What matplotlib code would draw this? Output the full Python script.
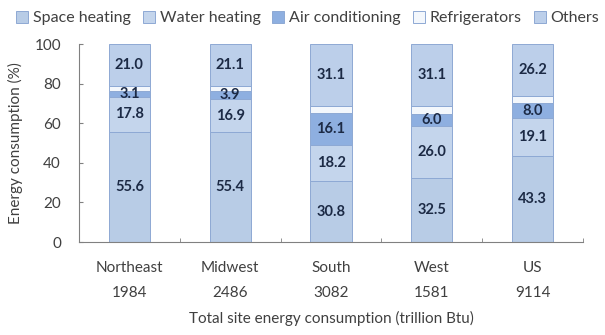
import matplotlib
matplotlib.use("Agg")
import matplotlib.pyplot as plt
import numpy as np

regions = ["Northeast", "Midwest", "South", "West", "US"]
totals = ["1984", "2486", "3082", "1581", "9114"]
series_names = ["Space heating", "Water heating", "Air conditioning", "Refrigerators", "Others"]
space_heating = [55.6, 55.4, 30.8, 32.5, 43.3]
water_heating = [17.8, 16.9, 18.2, 26.0, 19.1]
air_conditioning = [3.1, 3.9, 16.1, 6.0, 8.0]
refrigerators = [2.5, 2.7, 3.8, 4.4, 3.4]
others = [21.0, 21.1, 31.1, 31.1, 26.2]

series = [space_heating, water_heating, air_conditioning, refrigerators, others]
colors = ["#b8cce6", "#c4d5ec", "#8eafe0", "#f3f7fc", "#bccfea"]
show_label = [True, True, True, False, True]

plt.rcParams['font.family'] = ['Lato', 'DejaVu Sans']
fig = plt.figure(figsize=(6.05, 3.35), dpi=100)
ax = fig.add_axes([0.1306, 0.2776, 0.833, 0.591])

x = np.arange(len(regions))
bottom = np.zeros(len(regions))
handles = []
for vals, c, name, sl in zip(series, colors, series_names, show_label):
    v = np.array(vals)
    b = ax.bar(x, v, width=0.41, bottom=bottom, color=c, edgecolor="#8ea9d4",
               linewidth=0.7, label=name)
    handles.append(b)
    if sl:
        for xi, vi, bi in zip(x, v, bottom):
            ax.text(xi, bi + vi / 2, f"{vi:.1f}", ha="center", va="center",
                    fontsize=10.5, color="#1c2a45", fontweight="bold")
    bottom += v

ax.set_xlim(-0.5, 4.5)
ax.set_ylim(0, 100)
ax.set_yticks([0, 20, 40, 60, 80, 100])
ax.set_xticks(x)
ax.set_xticklabels([f"{r}\n{t}" for r, t in zip(regions, totals)], fontsize=11,
                   color="#404040", linespacing=1.95)
ax.set_xticks(np.arange(-0.5, 5.0, 1.0), minor=True)
ax.tick_params(axis="x", which="major", length=0, pad=14)
ax.tick_params(axis="x", which="minor", direction="in", length=3, color="#808080")
ax.tick_params(axis="y", direction="in", length=3, color="#808080", labelsize=11,
               labelcolor="#404040", pad=13)
for s in ["top", "right"]:
    ax.spines[s].set_visible(False)
for s in ["left", "bottom"]:
    ax.spines[s].set_color("#808080")
ax.set_ylabel("Energy consumption (%)", fontsize=11, color="#404040", labelpad=8)
ax.set_xlabel("Total site energy consumption (trillion Btu)", fontsize=11, color="#404040", labelpad=8)

leg = fig.legend(handles=handles, labels=series_names, loc="upper left",
                 bbox_to_anchor=(0.003, 1.01), ncol=5, frameon=False, fontsize=11.5,
                 handlelength=0.75, handleheight=0.75, handletextpad=0.3, columnspacing=0.75,
                 labelcolor="#404040")

fig.savefig("out.png", dpi=100)
